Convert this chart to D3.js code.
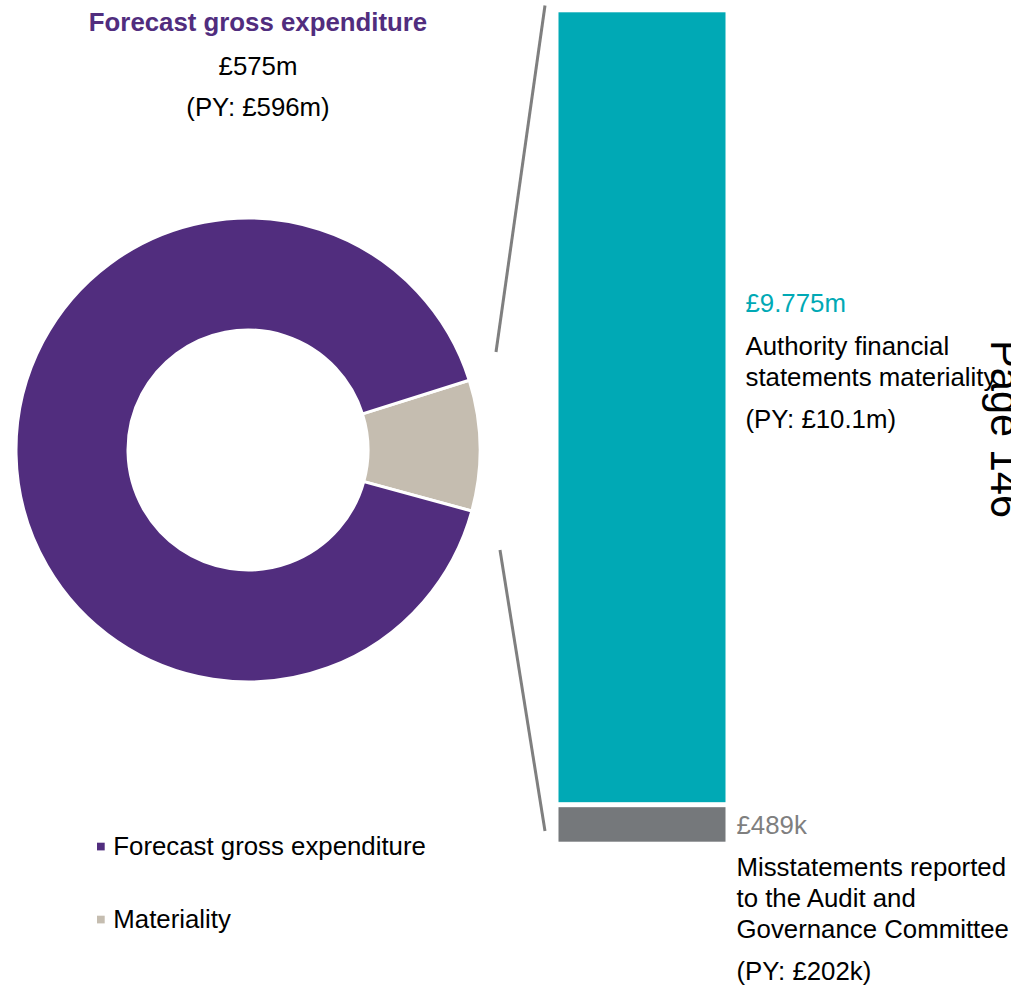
<!DOCTYPE html>
<html>
<head>
<meta charset="utf-8">
<script src="https://cdn.jsdelivr.net/npm/d3@7"></script>
<style>
  html, body { margin: 0; padding: 0; background: #fff; }
  svg { display: block; }
  text { font-family: "Liberation Sans", Arial, sans-serif; }
</style>
</head>
<body>
<svg id="chart" width="1011" height="985"></svg>
<script>
// ---- Data ----
const pieCategories = ["Materiality", "Forecast gross expenditure"];
const pieShares = [9.1, 90.9];               // slice shares as drawn (percent of ring)
const pieColors = ["#C5BDB0", "#512D7E"];

const barCategories = ["Misstatements reported", "Authority financial statements materiality"];
const barValues = [0.489, 9.775];            // £m
const barColors = ["#75787B", "#00A9B5"];

const titleLines = ["Forecast gross expenditure", "£575m", "(PY: £596m)"];
const materialityLabel = ["£9.775m", "Authority financial", "statements materiality", "(PY: £10.1m)"];
const misstatementLabel = ["£489k", "Misstatements reported", "to the Audit and", "Governance Committee", "(PY: £202k)"];
const legendItems = ["Forecast gross expenditure", "Materiality"];
const legendColors = ["#512D7E", "#C5BDB0"];
const pageLabel = "Page 146";

// ---- Drawing ----
const svg = d3.select("#chart");
const FS = 25.8;

// Donut
const cx = 248, cy = 450, rOuter = 232, rInner = 120;
const deg = Math.PI / 180;
const start = 72.5 * deg;
const pie = d3.pie().sort(null).value(d => d).startAngle(start).endAngle(start + 2 * Math.PI);
const arc = d3.arc().innerRadius(rInner).outerRadius(rOuter);
const g = svg.append("g").attr("transform", `translate(${cx},${cy})`);
g.selectAll("path").data(pie(pieShares)).join("path")
  .attr("d", arc)
  .attr("fill", (d, i) => pieColors[i])
  .attr("stroke", "#fff")
  .attr("stroke-width", 3)
  .attr("stroke-linejoin", "miter");

// Title over donut
const titleY = [31, 75, 116];
svg.selectAll("text.title").data(titleLines).join("text")
  .attr("class", "title")
  .attr("x", 258)
  .attr("y", (d, i) => titleY[i])
  .attr("text-anchor", "middle")
  .attr("font-size", FS)
  .attr("font-weight", (d, i) => i === 0 ? "bold" : "normal")
  .attr("fill", (d, i) => i === 0 ? "#512D7E" : "#000")
  .text(d => d);

// Bar (stacked)
const barX0 = 558.5, barX1 = 725.5;
const gap = 5;
const total = d3.sum(barValues);
const y = d3.scaleLinear().domain([0, total]).range([841.7, 12.3]);
let acc = 0;
const stacks = barValues.map(v => { const s = { y0: acc, y1: acc + v }; acc += v; return s; });
svg.selectAll("rect.bar").data(stacks).join("rect")
  .attr("class", "bar")
  .attr("x", barX0)
  .attr("width", barX1 - barX0)
  .attr("y", (d, i) => y(d.y1) + (i === 0 ? gap : 0))
  .attr("height", (d, i) => y(d.y0) - y(d.y1) - (i === 0 ? gap : 0))
  .attr("fill", (d, i) => barColors[i]);

// Connector lines
const conn = [[[545, 5.5], [496, 352]], [[500, 550], [545, 831]]];
svg.selectAll("line.conn").data(conn).join("line")
  .attr("class", "conn")
  .attr("x1", d => d[0][0]).attr("y1", d => d[0][1])
  .attr("x2", d => d[1][0]).attr("y2", d => d[1][1])
  .attr("stroke", "#7F7F7F")
  .attr("stroke-width", 3);

// Bar labels
const matY = [312, 355, 386, 427.5];
svg.selectAll("text.mat").data(materialityLabel).join("text")
  .attr("class", "mat")
  .attr("x", 745.5)
  .attr("y", (d, i) => matY[i])
  .attr("font-size", FS)
  .attr("fill", (d, i) => i === 0 ? barColors[1] : "#000")
  .text(d => d);

const misY = [834, 875.5, 907, 937.5, 980];
svg.selectAll("text.mis").data(misstatementLabel).join("text")
  .attr("class", "mis")
  .attr("x", 736.5)
  .attr("y", (d, i) => misY[i])
  .attr("font-size", FS)
  .attr("fill", (d, i) => i === 0 ? "#7F7F7F" : "#000")
  .text(d => d);

// Legend
const legY = [855, 928];
const leg = svg.selectAll("g.leg").data(legendItems).join("g")
  .attr("class", "leg")
  .attr("transform", (d, i) => `translate(0,${legY[i]})`);
leg.append("rect")
  .attr("x", 97).attr("y", -12.3).attr("width", 7.7).attr("height", 7.7)
  .attr("fill", (d, i) => legendColors[i]);
leg.append("text")
  .attr("x", 113.3).attr("y", 0)
  .attr("font-size", FS)
  .attr("fill", "#000")
  .text(d => d);

// Page label (rotated)
svg.append("text")
  .attr("transform", "translate(991,340) rotate(90)")
  .attr("font-size", 41.6)
  .attr("fill", "#000")
  .text(pageLabel);
</script>
</body>
</html>
